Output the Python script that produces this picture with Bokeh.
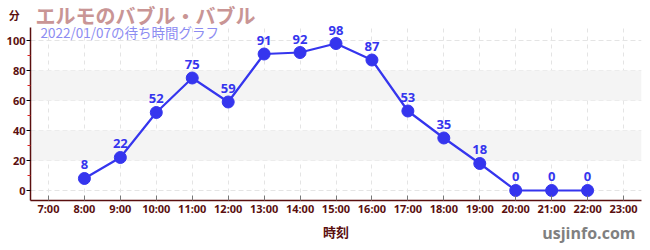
from bokeh.plotting import figure
from bokeh.models import (ColumnDataSource, Label, LabelSet, BoxAnnotation, FixedTicker,
                          Range1d, LinearAxis, Title)
from bokeh.core.properties import value
from bokeh.embed import file_html
from bokeh.resources import INLINE

hours = [8, 9, 10, 11, 12, 13, 14, 15, 16, 17, 18, 19, 20, 21, 22]
waits = [8, 22, 52, 75, 59, 91, 92, 98, 87, 53, 35, 18, 0, 0, 0]
tick_hours = list(range(7, 24))
tick_labels = {h: f"{h}:00" for h in tick_hours}
y_ticks = [0, 20, 40, 60, 80, 100]
y_minor = [10, 30, 50, 70, 90]
unit_pos = 117
title = "エルモのバブル・バブル"
subtitle = "2022/01/07の待ち時間グラフ"
ylabel = "分"
xlabel = "時刻"
credit = "usjinfo.com"

JP = "Noto Sans CJK JP, Noto Sans CJK SC"
NUM = "Noto Sans, Noto Sans CJK SC"
AXC = "#5a0f0f"
BLUE = "#3535ee"
Y0, Y1 = -6.67, 126.67
YTOP = 108.7

src = ColumnDataSource(dict(x=hours, y=waits, t=[str(v) for v in waits]))

p = figure(width=650, height=250, output_backend="svg", toolbar_location=None,
           x_range=Range1d(6.5, 23.5), y_range=Range1d(Y0, Y1))
p.min_border_left = 30
p.min_border_right = 9
p.min_border_top = 0
p.min_border_bottom = 50
p.outline_line_color = None

# grids
p.xgrid.ticker = FixedTicker(ticks=tick_hours)
p.xgrid.grid_line_color = "#e4e4e4"
p.xgrid.grid_line_dash = "4 4"
p.ygrid.ticker = FixedTicker(ticks=y_ticks)
p.ygrid.grid_line_color = "#e4e4e4"
p.ygrid.grid_line_dash = "5 3"

for lo in y_ticks[1:-1:2]:
    p.add_layout(BoxAnnotation(bottom=lo, top=lo + 20, fill_color="#f4f4f4", fill_alpha=1,
                               line_color=None, level="underlay"))
p.add_layout(BoxAnnotation(bottom=YTOP, fill_color="white", fill_alpha=1, line_color=None, level="underlay"))

# x axis
p.xaxis.ticker = FixedTicker(ticks=tick_hours)
p.xaxis.major_label_overrides = tick_labels
p.xaxis.axis_label = xlabel
p.xaxis.axis_line_color = AXC
p.xaxis.axis_line_width = 1.5
p.xaxis.major_label_text_color = AXC
p.xaxis.major_label_text_font = NUM
p.xaxis.major_label_text_font_size = "11px"
p.xaxis.major_label_text_font_style = "bold"
p.xaxis.major_tick_in = 5
p.xaxis.major_tick_out = 0
p.xaxis.major_tick_line_color = "#777777"
p.xaxis.minor_tick_line_color = None
p.xaxis.major_label_standoff = 0
p.xaxis.axis_label_text_font = JP
p.xaxis.axis_label_text_font_size = "13px"
p.xaxis.axis_label_text_font_style = "bold"
p.xaxis.axis_label_text_color = AXC
p.xaxis.axis_label_standoff = 3

# y axis: line + ticks
ya = p.yaxis[0]
ya.bounds = (Y0, YTOP)
ya.ticker = FixedTicker(ticks=y_ticks, minor_ticks=y_minor)
ya.major_label_overrides = {t: "" for t in y_ticks}
ya.major_label_standoff = 0
ya.axis_line_color = AXC
ya.axis_line_width = 1.5
ya.major_tick_in = 0
ya.major_tick_out = 4
ya.major_tick_line_color = "#000000"
ya.minor_tick_in = 0
ya.minor_tick_out = 3
ya.minor_tick_line_color = "#dd2222"

# y axis: labels (incl. unit)
yl = LinearAxis(ticker=FixedTicker(ticks=y_ticks + [unit_pos], minor_ticks=[]),
                major_label_overrides={unit_pos: ylabel + "\u00a0\u00a0"})
yl.axis_line_color = None
yl.major_tick_line_color = None
yl.minor_tick_line_color = None
yl.major_tick_in = 0
yl.major_tick_out = 0
yl.major_label_standoff = 1
yl.major_label_text_color = AXC
yl.major_label_text_font = NUM
yl.major_label_text_font_size = "11px"
yl.major_label_text_font_style = "bold"
p.add_layout(yl, "left")

p.line("x", "y", source=src, line_color=BLUE, line_width=2.2)
p.scatter("x", "y", source=src, size=12, fill_color=BLUE, line_color=BLUE)
p.add_layout(LabelSet(x="x", y="y", text="t", source=src, y_offset=9, text_align="center",
                      text_color=BLUE, text_font=value(NUM), text_font_size=value("13px"),
                      text_font_style="bold"))

p.add_layout(Label(x=35, y=15, x_units="canvas", y_units="canvas", text=title, text_font=JP,
                   text_baseline="middle",
                   text_font_size="20px", text_font_style="bold", text_color="#c99595"))
p.add_layout(Label(x=40, y=31, x_units="canvas", y_units="canvas", text=subtitle, text_font=JP,
                   text_baseline="middle",
                   text_font_size="13.5px", text_color="#8c8cf2"))

p.add_layout(Title(text=credit, align="right", offset=6, vertical_align="top", standoff=-44,
                   text_font="Open Sans", text_font_size="16px", text_font_style="bold",
                   text_color="#808080"), "below")

open("out.html", "w").write(file_html(p, INLINE))
